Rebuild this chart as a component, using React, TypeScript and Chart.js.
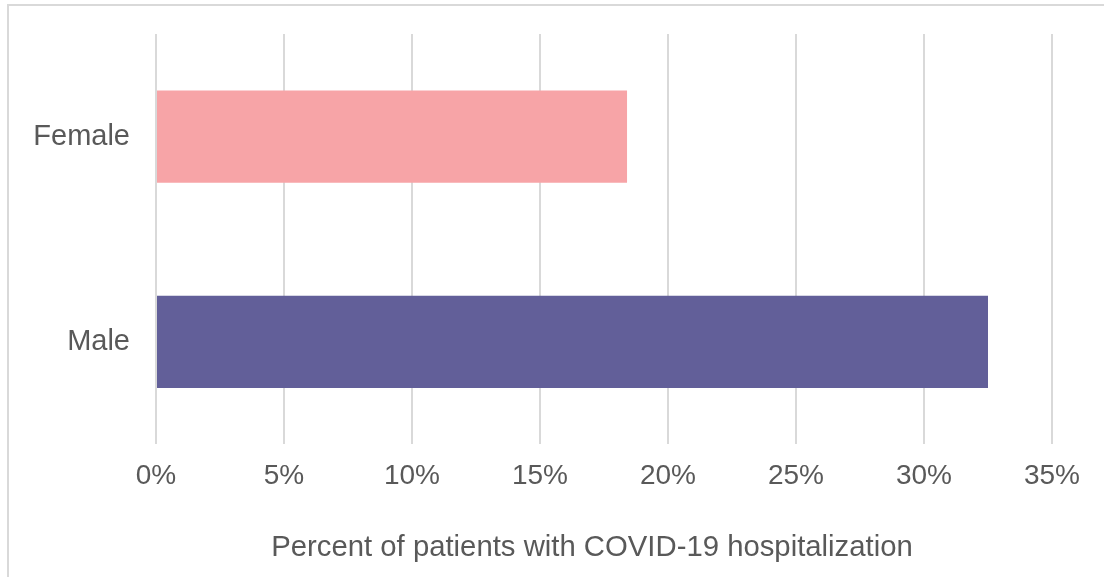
import React, { useEffect, useRef } from "react";
import { Chart, registerables } from "chart.js";

Chart.register(...registerables);

const categories: string[] = ["Female", "Male"];
const values: number[] = [18.4, 32.5];
const barColors: string[] = ["#F7A4A7", "#625F99"];
const xTickValues: number[] = [0, 5, 10, 15, 20, 25, 30, 35];
const xAxisTitle = "Percent of patients with COVID-19 hospitalization";

const W = 1104;
const H = 577;
const FONT = "'Liberation Sans', Arial, sans-serif";
const TEXT = "#595959";

const axisTitlePlugin = {
  id: "axisTitle",
  afterDraw(chart: any) {
    const { ctx, chartArea } = chart;
    ctx.save();
    ctx.font = `29.3px ${FONT}`;
    ctx.fillStyle = TEXT;
    ctx.textAlign = "center";
    ctx.textBaseline = "middle";
    const cx = (chartArea.left + chartArea.right) / 2 - 12;
    ctx.fillText(xAxisTitle, cx, chart.height - 29);
    ctx.restore();
  },
};

export default function App() {
  const ref = useRef<HTMLCanvasElement | null>(null);

  useEffect(() => {
    if (!ref.current) return;
    const chart = new Chart(ref.current, {
      type: "bar",
      data: {
        labels: categories,
        datasets: [
          {
            data: values,
            backgroundColor: barColors,
            borderWidth: 0,
            categoryPercentage: 1,
            barPercentage: 0.45,
          },
        ],
      },
      plugins: [axisTitlePlugin],
      options: {
        indexAxis: "y",
        animation: false,
        responsive: false,
        devicePixelRatio: 1,
        layout: { padding: { left: 0, right: 52, top: 34, bottom: 69 } },
        plugins: { legend: { display: false }, tooltip: { enabled: false } },
        scales: {
          x: {
            min: xTickValues[0],
            max: xTickValues[xTickValues.length - 1],
            afterBuildTicks: (scale: any) => {
              scale.ticks = xTickValues.map((v) => ({ value: v }));
            },
            afterFit: (scale: any) => {
              scale.paddingLeft = 0;
              scale.paddingRight = 0;
            },
            ticks: {
              callback: (v: any) => `${v}%`,
              color: TEXT,
              font: { family: FONT, size: 28 },
              padding: 15,
              maxRotation: 0,
            },
            grid: { color: "#d9d9d9", lineWidth: 2, drawTicks: false },
            border: { display: false },
          },
          y: {
            afterFit: (scale: any) => {
              scale.width = 156;
              scale.paddingTop = 0;
              scale.paddingBottom = 0;
            },
            ticks: {
              color: TEXT,
              font: { family: FONT, size: 29 },
              padding: 26,
            },
            grid: { display: false, drawTicks: false },
            border: { display: false },
          },
        },
      },
    });
    return () => chart.destroy();
  }, []);

  return (
    <div
      style={{
        position: "absolute",
        left: 0,
        top: 0,
        width: W,
        height: H,
        overflow: "hidden",
        background: "#fff",
      }}
    >
      <div
        style={{
          position: "absolute",
          left: 7,
          top: 4,
          width: W + 20,
          height: H + 20,
          border: "2px solid #d9d9d9",
          boxSizing: "border-box",
        }}
      />
      <canvas
        ref={ref}
        width={W}
        height={H}
        style={{ position: "absolute", left: 0, top: 0, width: W, height: H }}
      />
    </div>
  );
}
